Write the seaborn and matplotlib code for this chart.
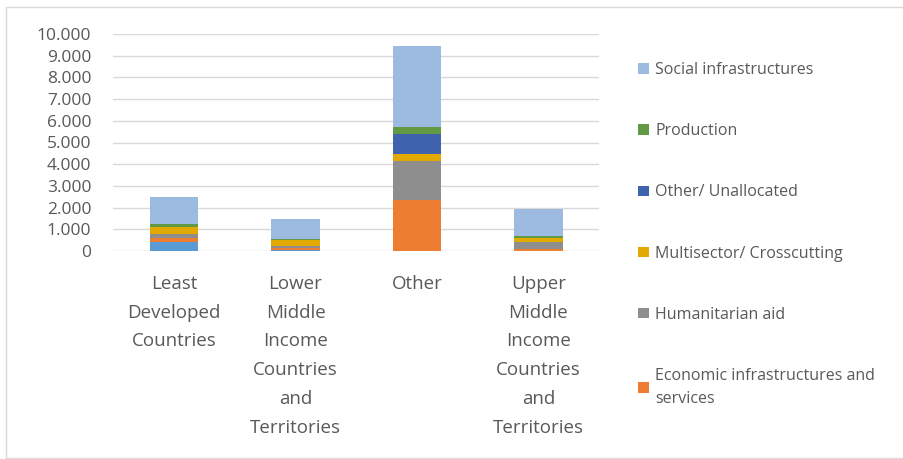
import numpy as np
import matplotlib.pyplot as plt
from matplotlib.patches import Rectangle
from matplotlib.ticker import FuncFormatter
import seaborn as sns

# data (stack order: bottom -> top)
categories = ["Least Developed Countries",
              "Lower Middle Income Countries and Territories",
              "Other",
              "Upper Middle Income Countries and Territories"]
tick_labels = ["Least\nDeveloped\nCountries",
               "Lower\nMiddle\nIncome\nCountries\nand\nTerritories",
               "Other",
               "Upper\nMiddle\nIncome\nCountries\nand\nTerritories"]

unlisted = [430, 60, 0, 20]          # bottom series, not shown in the legend
economic = [185, 100, 2350, 75]
humanitarian = [150, 70, 1810, 340]
multisector = [320, 275, 307, 185]
other_unalloc = [0, 0, 937, 0]
production = [150, 60, 307, 90]
social = [1245, 905, 3750, 1245]

series = [unlisted, economic, humanitarian, multisector, other_unalloc, production, social]
names = [None, "Economic infrastructures and\nservices", "Humanitarian aid",
         "Multisector/ Crosscutting", "Other/ Unallocated", "Production",
         "Social infrastructures"]
colors = ["#5B9BD5", "#ED7D31", "#8E8E8E", "#E2AA00", "#3F63AD", "#619A43", "#9DBBE1"]

sns.set_theme(style="white")
plt.rcParams['font.family'] = ['Open Sans', 'DejaVu Sans']
txt = "#595959"

fig = plt.figure(figsize=(9.04, 4.59), dpi=100)
ax = fig.add_axes([113.5 / 904, 1 - 251 / 459, (599 - 113.5) / 904, 217 / 459])

# stack by drawing cumulative totals from the top layer down
cum = np.cumsum(np.array(series), axis=0)
for i in reversed(range(len(series))):
    sns.barplot(x=categories, y=cum[i], color=colors[i], width=0.4,
                saturation=1, errorbar=None, ax=ax, label=names[i],
                edgecolor="none", linewidth=0)
if ax.get_legend() is not None:
    ax.get_legend().remove()

ax.set_ylim(0, 10000)
ax.set_yticks(range(0, 10001, 1000))
ax.yaxis.set_major_formatter(FuncFormatter(lambda v, p: f"{int(v):,}".replace(",", ".")))
ax.set_xticks(range(len(categories)))
ax.set_xticklabels(tick_labels)
ax.tick_params(axis='y', length=0, pad=16, labelsize=12.5, labelcolor=txt)
ax.tick_params(axis='x', length=0, pad=17, labelsize=13.5, labelcolor=txt)
for t in ax.get_xticklabels():
    t.set_linespacing(1.78)
ax.set_xlabel("")
ax.set_ylabel("")
ax.yaxis.grid(True, color="#D9D9D9", lw=1)
ax.set_axisbelow(True)
for s in ax.spines.values():
    s.set_visible(False)

handles, labels = ax.get_legend_handles_labels()
leg = fig.legend(handles, labels, loc="upper left", bbox_to_anchor=(624 / 904, 1 - 48 / 459),
                 frameon=False, fontsize=11.5, labelcolor=txt, handlelength=0.65,
                 handleheight=0.65, handletextpad=0.4, labelspacing=2.82)
for t in leg.get_texts():
    t.set_linespacing(1.6)

fig.patches.append(Rectangle((6 / 904, 1 - 458 / 459), 1.0, (458 - 7) / 459,
                             transform=fig.transFigure, fill=False,
                             ec="#D9D9D9", lw=1))

fig.savefig("out.png", dpi=100)
